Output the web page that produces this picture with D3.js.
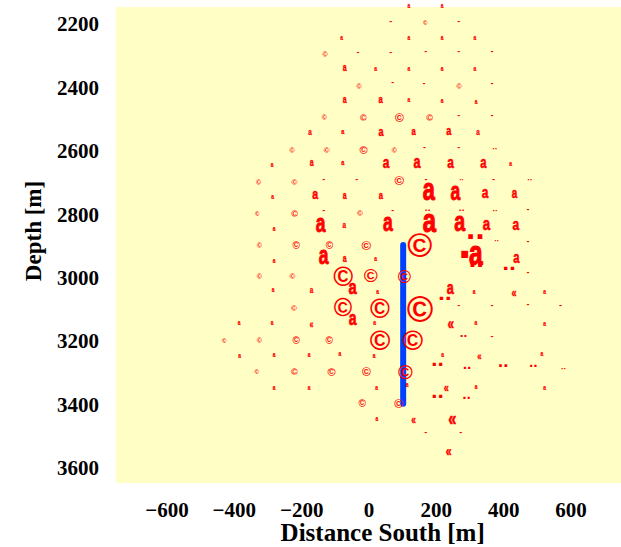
<!DOCTYPE html>
<html><head><meta charset="utf-8">
<script src="https://cdn.jsdelivr.net/npm/d3@7"></script>
<style>body{margin:0;background:#fff;} svg{display:block}</style>
</head><body>
<svg id="chart" width="621" height="547"></svg>
<script>
// ---- data ----
const xTicks = [-600, -400, -200, 0, 200, 400, 600];
const yTicks = [2200, 2400, 2600, 2800, 3000, 3200, 3400, 3600];
const xTitle = "Distance South [m]";
const yTitle = "Depth [m]";

// event markers: distance south (m), depth (m), marker type, relative marker size
const evX = [120,219, 66,169,268, -80,120,219,316, -128,-31,66,170,268,367,
  -70,21,120,219,316, -27,72,165,270,367, -70,37,120,219,320,
  -130,-15,92,182,268,367, -173,-76,38,135,239,326,
  -226,-124,-15,78,166,268,375, -286,-168,-76,53,145,244,341,422,
  -325,-220,-133,-35,92,171,277,371,479, -285,-158,-70,38,180,259,347,434,
  -330,-219,-133,-25,72,176,277,376,474, -280,-141,-71,59,183,271,351,438,
  -323,-214,-115,-6,152,381,474,318, -280,-132,-70,21,320,287,320,418,439,
  -323,-226,-75,7,106,474, -283,-168,-47,27,227,244,314,432,523,
  -221,-75,34,152,268,367,474,570, -384,-286,-169,-46,18,244,319,523,
  -428,-323,-214,-116,35,132,282,367, -383,-280,-176,-85,17,220,329,515,
  -331,-220,-110,-6,110,205,293,401,490,579, -280,-176,24,115,231,320,523,
  -18,90,205,292, 25,134,248, 170,274, 238];
const evDepth = [2147,2147, 2196,2200,2196, 2249,2249,2249,2249, 2298,2295,2295,2293,2293,2293,
  2343,2344,2345,2345,2345, 2398,2390,2393,2399,2393, 2444,2444,2444,2446,2448,
  2496,2497,2497,2497,2492,2492, 2545,2545,2545,2543,2543,2545,
  2601,2601,2601,2601,2595,2595,2595, 2648,2643,2643,2642,2643,2643,2643,2645,
  2701,2701,2694,2694,2698,2694,2694,2695,2694, 2748,2742,2744,2744,2732,2735,2737,2739,
  2800,2800,2793,2799,2793,2791,2791,2791,2791, 2851,2837,2840,2835,2832,2832,2837,2840,
  2900,2900,2900,2900,2900,2888,2892,2872, 2950,2937,2945,2945,2932,2928,2963,2973,2942,
  2998,2998,2997,2998,3002,2989, 3043,3043,3037,3047,3068,3040,3047,3050,3049,
  3098,3096,3100,3100,3091,3091,3089,3091, 3147,3147,3152,3136,3146,3152,3145,3149,
  3200,3200,3200,3200,3199,3199,3187,3190, 3249,3248,3248,3245,3249,3247,3252,3245,
  3299,3299,3299,3299,3301,3275,3287,3280,3281,3290, 3350,3350,3350,3341,3352,3347,3350,
  3399,3399,3376,3382, 3448,3452,3452, 3492,3492, 3551];
const evType = ["a","a", "h","c","h", "a","a","a","a", "c","h","h","h","h","h",
  "a","a","a","a","a", "c","h","h","c","h", "a","a","a","a","a",
  "c","c","c","c","h","h", "a","a","a","a","a","a",
  "c","c","c","c","h","h","d", "a","a","a","a","a","a","a","a",
  "c","c","h","h","c","h","d","h","d", "a","a","a","a","a","a","a","a",
  "c","c","h","c","h","d","d","d","h", "a","a","a","a","a","a","a","a",
  "c","c","c","c","c","d","h","d", "a","a","a","a","a","p","d","d","a",
  "c","c","c","c","c","h", "a","a","a","a","d","a","a","g","a",
  "c","c","c","c","h","h","h","h", "a","a","g","a","a","g","a","a",
  "c","c","c","c","c","c","d","h", "a","a","a","a","a","a","g","a",
  "c","c","c","c","c","d","d","d","d","d", "a","a","a","a","g","a","a",
  "c","c","d","d", "a","g","g", "h","h", "g"];
const evSize = [7,7, 9,6,9, 7,7,7,7, 7,9,9,9,9,9,
  10,7,7,7,7, 7,9,9,7,9, 10,11,7,7,7,
  7,9,12,9,9,9, 9,8,13,11,13,9,
  7,8,11,7,9,9,12, 7,10,8,17,18,17,16,7,
  7,8,9,9,13,9,10,9,12, 7,15,10,11,31,25,17,14,
  6,9,9,8,9,14,14,12,9, 7,25,9,25,34,28,19,17,
  7,10,10,13,34,11,9,44, 7,25,10,7,35,48,36,32,16,
  7,8,27,19,18,9, 7,9,21,7,32,18,7,13,7,
  8,25,27,36,9,9,9,9, 7,7,10,20,7,17,7,7,
  6,7,10,10,28,28,18,9, 7,7,7,7,7,7,11,7,
  6,9,11,12,20,30,20,25,20,12, 7,7,7,7,13,7,7,
  10,12,30,20, 7,12,21, 9,9, 15];

// well trace
const wellX = [103, 103];
const wellDepth = [2900, 3400];

// ---- drawing ----
const plot = {left: 116, right: 621, top: 7, bottom: 483};
const svg = d3.select("#chart");

const x = d3.scaleLinear().domain([-750, 750]).range([plot.left, plot.right]);
const y = d3.scaleLinear().domain([2150, 3650]).range([plot.top, plot.bottom]);
const glyph = d3.scaleOrdinal().domain(["a","c","d","g","h","p"])
  .range(["a", "\u00A9", "\u00A8", "\u00AB", "-", "\u00B7"]);
const squish = d3.scaleOrdinal().domain(["a","c","d","g","h","p"])
  .range([0.7, 1, 1, 0.7, 1, 1]);
const heavy = d3.scaleOrdinal().domain(["a","c","d","g","h","p"])
  .range([0.035, 0, 0, 0.03, 0, 0]);
const sizeScale = d3.scaleLinear().domain([0, 10]).range([0, 10]);

svg.append("rect").attr("x", plot.left).attr("y", plot.top)
  .attr("width", plot.right - plot.left).attr("height", plot.bottom - plot.top)
  .attr("fill", "#ffffc5");

// axes (labels only)
const axX = svg.append("g").attr("transform", `translate(0,${plot.bottom})`)
  .call(d3.axisBottom(x).tickValues(xTicks).tickSize(0).tickPadding(19).tickFormat(d3.format("d")));
const axY = svg.append("g").attr("transform", `translate(${plot.left},0)`)
  .call(d3.axisLeft(y).tickValues(yTicks).tickSize(0).tickPadding(17).tickFormat(d3.format("d")));
[axX, axY].forEach(a => {
  a.select(".domain").remove();
  a.selectAll("text").attr("font-family", "'Liberation Serif', 'Times New Roman', serif")
    .attr("font-weight", "bold").attr("font-size", 21).attr("fill", "#000");
});
axY.selectAll("text").attr("dy", "0.37em");

svg.append("text").attr("x", 382.7).attr("y", 540.5).attr("text-anchor", "middle")
  .attr("font-family", "'Liberation Serif', 'Times New Roman', serif").attr("font-weight", "bold")
  .attr("font-size", 25).text(xTitle);
svg.append("text").attr("transform", "translate(41,231) rotate(-90)").attr("text-anchor", "middle")
  .attr("font-family", "'Liberation Serif', 'Times New Roman', serif").attr("font-weight", "bold")
  .attr("font-size", 23).text(yTitle);

// well line
svg.append("path")
  .datum(wellX.map((v, i) => [v, wellDepth[i]]))
  .attr("d", d3.line().x(d => x(d[0])).y(d => y(d[1])))
  .attr("stroke", "#0040ff").attr("stroke-width", 6).attr("stroke-linecap", "round").attr("fill", "none");

// markers: glyph ink centred on data point
const ctx = document.createElement("canvas").getContext("2d");
const FONT = "'Liberation Sans', Arial, sans-serif";
function ink(ch, size) {
  ctx.font = `bold ${size}px ${FONT}`;
  const m = ctx.measureText(ch);
  return {cx: (m.actualBoundingBoxRight - m.actualBoundingBoxLeft) / 2,
          cy: (m.actualBoundingBoxDescent - m.actualBoundingBoxAscent) / 2};
}
const events = evX.map((v, i) => ({x: v, d: evDepth[i], t: evType[i], s: sizeScale(evSize[i])}));
svg.append("g").selectAll("text").data(events).join("text")
  .each(function(e) {
    const ch = glyph(e.t);
    const c = ink(ch, e.s);
    const sw = heavy(e.t) * e.s;
    d3.select(this)
      .attr("transform", `translate(${x(e.x)},${y(e.d)}) scale(${squish(e.t)},1)`)
      .attr("x", -c.cx).attr("y", -c.cy)
      .attr("font-family", FONT).attr("font-weight", "bold").attr("font-size", e.s)
      .attr("fill", "#ff0000")
      .attr("stroke", sw > 0 ? "#ff0000" : "none").attr("stroke-width", sw)
      .text(ch);
  });
</script>
</body></html>
